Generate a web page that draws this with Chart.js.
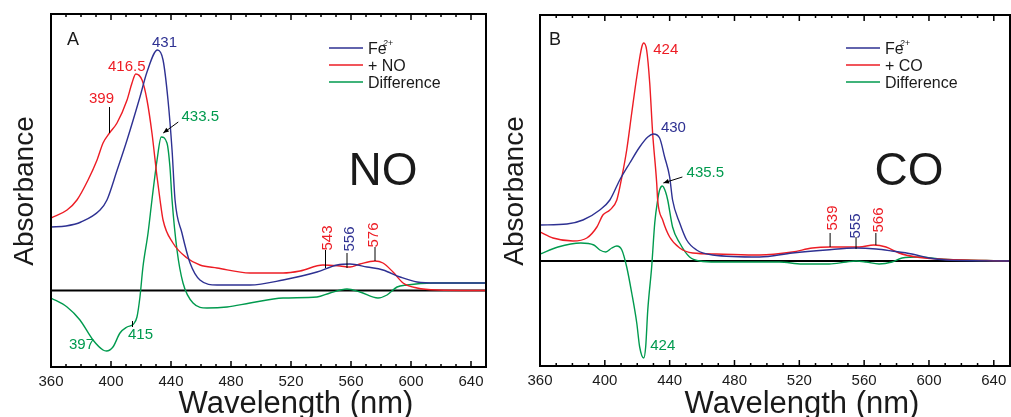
<!DOCTYPE html>
<html>
<head>
<meta charset="utf-8">
<script src="https://cdn.jsdelivr.net/npm/chart.js@4.4.0/dist/chart.umd.min.js"></script>
<style>
html,body{margin:0;padding:0;background:#fff;overflow:hidden}
.wrap{position:absolute;top:0;height:417px}
#wrapA{left:0;width:500px}
#wrapB{left:500px;width:511px}
</style>
</head>
<body>
<div class="wrap" id="wrapA"><canvas id="chartA" width="500" height="417" style="width:500px;height:417px"></canvas></div>
<div class="wrap" id="wrapB"><canvas id="chartB" width="511" height="417" style="width:511px;height:417px"></canvas></div>
<script>
const FONT='"Liberation Sans", Arial, Helvetica, sans-serif';
const BLUE='#2e3192',RED='#ed1c24',GREEN='#009a4e',INK='#1a1a1a';

/* x axis: tick every 10 nm, label every 40 nm */
const xTicks=[360,370,380,390,400,410,420,430,440,450,460,470,480,490,500,510,520,530,540,550,560,570,580,590,600,610,620,630,640,650];

/* panel A : Fe2+ / + NO / difference */
const nmFeA =[360,370,380,392.7,397.3,404,410.7,419.3,424,431,434.7,438,440.7,442.7,447.3,452.7,459.3,470.7,492.7,514.7,537.3,550.7,559.3,570.7,581.3,592.7,604,617.3,650];
const absFeA=[0.635,0.645,0.685,0.805,0.905,1.2,1.505,1.935,2.185,2.405,2.305,1.905,1.405,0.905,0.575,0.275,0.105,0.055,0.055,0.105,0.185,0.255,0.265,0.235,0.205,0.135,0.085,0.075,0.075];
const nmNOA =[360,370.7,377.3,384.7,390.7,394.7,399,404,410.7,414,416.5,420.7,424,427.3,430.7,432.7,434.7,441.3,450.7,459.3,470.7,492.7,514.7,526,541.3,552.7,559.3,566,576,581.3,588,594.7,604,617.3,650];
const absNOA=[0.725,0.805,0.905,1.105,1.305,1.475,1.575,1.675,1.905,2.075,2.165,2.105,1.905,1.575,1.135,0.905,0.705,0.475,0.325,0.255,0.225,0.175,0.175,0.195,0.255,0.245,0.235,0.265,0.295,0.275,0.185,0.075,0.025,0.005,0];
const nmDiffA =[360,370.7,379.3,388,394.7,397,401.3,406,410.7,415,417.3,419.3,421.3,424.7,427.3,430.7,433.5,437.3,439.3,440.7,444,448,454.7,464,477.3,492.7,514.7,537.3,546,557.3,566,578,584,590.7,597.3,614.7,650];
const absDiffA=[-0.075,-0.165,-0.295,-0.495,-0.595,-0.605,-0.565,-0.425,-0.365,-0.335,-0.265,-0.065,0.235,0.575,0.905,1.305,1.535,1.475,1.235,0.905,0.405,0.075,-0.125,-0.175,-0.165,-0.125,-0.075,-0.065,-0.025,0.015,-0.015,-0.075,-0.045,0.035,0.055,0.075,0.075];

/* panel B : Fe2+ / + CO / difference */
const nmFeB =[360,376.6,386.5,396.9,403.1,409.2,415.4,421.5,426.5,430,433.8,436.9,440,441.8,446.2,450.5,456.6,466.5,495.4,515.7,536.6,555,567.4,577.2,589.5,600,610.5,650];
const absFeB=[0.36,0.37,0.41,0.51,0.61,0.81,0.98,1.14,1.24,1.27,1.23,1.04,0.84,0.61,0.38,0.21,0.11,0.06,0.04,0.08,0.11,0.13,0.12,0.1,0.07,0.03,0.01,0];
const nmCOB =[360,368,380.3,388.9,395.1,398.8,403.1,407.4,410.5,413.5,416.6,419.7,422.8,424,425.8,427.7,429.5,432,432.6,435.7,440,446.2,454.2,468.9,495.4,515.7,528,539,548.9,556.9,566,573.5,581.5,592,606.2,650];
const absCOB=[0.29,0.23,0.2,0.23,0.34,0.46,0.51,0.61,0.84,1.11,1.48,1.84,2.14,2.18,2.11,1.78,1.28,0.78,0.61,0.41,0.24,0.13,0.08,0.07,0.06,0.09,0.13,0.14,0.14,0.14,0.16,0.14,0.08,0.04,0.02,0];
const nmDiffB =[360,371.1,385.2,393.2,396.9,400.6,404.3,407.4,410.5,413.5,416.6,419.7,421.5,424,425.2,426.5,428.9,430.8,432.6,433.8,435.5,437.5,438.8,441.8,446.2,452.3,458.5,468.9,495.4,507.7,521.8,538.5,548.9,555,561.2,569.2,577.2,583.4,593.8,606.2,650];
const absDiffB=[0.07,0.14,0.18,0.16,0.11,0.09,0.13,0.15,0.11,-0.06,-0.32,-0.62,-0.86,-0.97,-0.86,-0.49,-0.06,0.38,0.61,0.71,0.75,0.69,0.61,0.34,0.18,0.04,0,-0.01,-0.01,-0.01,-0.03,-0.03,-0.01,0,-0.01,-0.03,-0.01,0.03,0.04,0.02,0];

const pts=(xs,ys)=>xs.map((x,i)=>({x,y:ys[i]}));

/* peak marks: anchor on the curve (nm, value), pixel offsets for text / leader */
const marksA=[
  {t:'431',nm:431,v:2.405,c:BLUE,dx:7,dy:-7},
  {t:'416.5',nm:416.5,v:2.165,c:RED,dx:-9,dy:-7},
  {t:'399',nm:399,v:1.575,c:RED,dx:-8,dy:-34,line:[0,0,0,-26]},
  {t:'433.5',nm:433.5,v:1.535,c:GREEN,dx:39,dy:-20,arrow:[17,-15,2,-4]},
  {t:'397',nm:397,v:-0.605,c:GREEN,dx:-25,dy:-6},
  {t:'415',nm:415,v:-0.335,c:GREEN,dx:7,dy:11,line:[-1,-3,-1,3]},
  {t:'543',nm:543,v:0.255,c:RED,dx:2,dy:-27,rot:true,line:[0,3,0,-15]},
  {t:'556',nm:556,v:0.265,c:BLUE,dx:5,dy:-25,rot:true,line:[2,4,2,-11]},
  {t:'576',nm:576,v:0.295,c:RED,dx:-1,dy:-26,rot:true,line:[0,0,0,-14]}
];
const marksB=[
  {t:'424',nm:424,v:2.18,c:RED,dx:22,dy:7},
  {t:'430',nm:430,v:1.27,c:BLUE,dx:20,dy:-6},
  {t:'435.5',nm:435.5,v:0.75,c:GREEN,dx:43,dy:-13,arrow:[20,-9,1,-3]},
  {t:'424',nm:424,v:-0.97,c:GREEN,dx:19,dy:-12},
  {t:'539',nm:539,v:0.14,c:RED,dx:3,dy:-29,rot:true,line:[0,0,0,-14]},
  {t:'555',nm:555,v:0.13,c:BLUE,dx:0,dy:-22,rot:true,line:[0,1,0,-11]},
  {t:'566',nm:566,v:0.16,c:RED,dx:5,dy:-25,rot:true,line:[2,0,2,-12]}
];

const decor={
  id:'decor',
  beforeDatasetsDraw(c){
    const {ctx,chartArea:a,scales:{y}}=c;
    const y0=y.getPixelForValue(0);
    ctx.save();
    ctx.strokeStyle='#000';ctx.lineWidth=2;
    ctx.beginPath();ctx.moveTo(a.left,y0);ctx.lineTo(a.right,y0);ctx.stroke();
    ctx.restore();
  },
  afterDraw(c,args,o){
    const {ctx,chartArea:a,scales:{x,y}}=c;
    ctx.save();
    // frame + inward ticks
    ctx.strokeStyle='#000';ctx.lineWidth=2;
    ctx.strokeRect(a.left,a.top,a.right-a.left,a.bottom-a.top);
    ctx.lineWidth=1.5;
    x.ticks.forEach(t=>{
      const px=x.getPixelForValue(t.value),len=t.value%40===0?6:3;
      ctx.beginPath();
      ctx.moveTo(px,a.bottom);ctx.lineTo(px,a.bottom-len);
      ctx.moveTo(px,a.top);ctx.lineTo(px,a.top+len);
      ctx.stroke();
    });
    // axis titles
    ctx.fillStyle=INK;
    ctx.font='31px '+FONT;ctx.textAlign='center';ctx.textBaseline='alphabetic';
    ctx.fillText('Wavelength (nm)',o.xTitleX,413);
    ctx.save();
    ctx.translate(o.yTitleX,191);ctx.rotate(-Math.PI/2);
    ctx.font='28px '+FONT;ctx.fillText('Absorbance',0,0);
    ctx.restore();
    // panel letter + gas
    ctx.textAlign='left';ctx.font='18px '+FONT;
    ctx.fillText(o.letter,a.left+o.letterDx,45);
    ctx.textAlign='center';ctx.font='46px '+FONT;
    ctx.fillText(o.gas,o.gasX,185);
    // legend
    const rows=[['Fe',BLUE],['+ '+o.gas,RED],['Difference',GREEN]];
    ctx.textAlign='left';
    rows.forEach((r,i)=>{
      const ly=48+i*17;
      ctx.strokeStyle=r[1];ctx.lineWidth=1.6;
      ctx.beginPath();ctx.moveTo(o.legX,ly);ctx.lineTo(o.legX+34,ly);ctx.stroke();
      ctx.font='16px '+FONT;ctx.fillStyle=INK;
      ctx.fillText(r[0],o.legX+39,ly+5.5);
      if(i===0){
        const w=ctx.measureText('Fe').width;
        ctx.font='italic 9px '+FONT;
        ctx.fillText('2+',o.legX+39+w-4,ly-2);
      }
    });
    // peak marks
    ctx.font='15px '+FONT;ctx.textBaseline='middle';ctx.textAlign='center';
    o.marks.forEach(m=>{
      const px=x.getPixelForValue(m.nm),py=y.getPixelForValue(m.v);
      ctx.strokeStyle='#000';ctx.fillStyle='#000';ctx.lineWidth=1;
      if(m.line){
        ctx.beginPath();ctx.moveTo(px+m.line[0],py+m.line[1]);ctx.lineTo(px+m.line[2],py+m.line[3]);ctx.stroke();
      }
      if(m.arrow){
        const [x1,y1,x2,y2]=m.arrow,ang=Math.atan2(y2-y1,x2-x1);
        ctx.beginPath();ctx.moveTo(px+x1,py+y1);ctx.lineTo(px+x2,py+y2);ctx.stroke();
        ctx.beginPath();
        ctx.moveTo(px+x2,py+y2);
        ctx.lineTo(px+x2-6*Math.cos(ang-0.4),py+y2-6*Math.sin(ang-0.4));
        ctx.lineTo(px+x2-6*Math.cos(ang+0.4),py+y2-6*Math.sin(ang+0.4));
        ctx.closePath();ctx.fill();
      }
      ctx.fillStyle=m.c;
      if(m.rot){
        ctx.save();ctx.translate(px+m.dx,py+m.dy);ctx.rotate(-Math.PI/2);
        ctx.fillText(m.t,0,0);ctx.restore();
      }else ctx.fillText(m.t,px+m.dx,py+m.dy);
    });
    ctx.restore();
  }
};

function makePanel(id,sets,yMin,yMax,pad,axH,opts){
  return new Chart(document.getElementById(id),{
    type:'line',
    data:{datasets:sets.map(s=>({data:s[0],borderColor:s[1],borderWidth:1.4,pointRadius:0,fill:false,cubicInterpolationMode:'monotone'}))},
    options:{
      responsive:false,animation:false,
      layout:{padding:pad},
      plugins:{legend:{display:false},tooltip:{enabled:false},decor:opts},
      scales:{
        x:{type:'linear',min:360,max:650,
          afterBuildTicks:s=>{s.ticks=xTicks.map(v=>({value:v}));},
          afterFit:s=>{s.height=axH;s.paddingLeft=0;s.paddingRight=0;},
          grid:{display:false,drawTicks:false},border:{display:false},
          ticks:{autoSkip:false,maxRotation:0,padding:6,color:INK,font:{family:FONT,size:15},callback:v=>v%40===0&&v<650?String(v):''}},
        y:{display:false,min:yMin,max:yMax}
      }
    },
    plugins:[decor]
  });
}

makePanel('chartA',[[pts(nmFeA,absFeA),BLUE],[pts(nmNOA,absNOA),RED],[pts(nmDiffA,absDiffA),GREEN]],
  -0.765,2.765,{left:51,right:14,top:14,bottom:0},50,
  {letter:'A',letterDx:16,gas:'NO',gasX:383,legX:329,xTitleX:296,yTitleX:33,marks:marksA});
makePanel('chartB',[[pts(nmFeB,absFeB),BLUE],[pts(nmCOB,absCOB),RED],[pts(nmDiffB,absDiffB),GREEN]],
  -1.05,2.46,{left:40,right:1,top:15,bottom:0},51,
  {letter:'B',letterDx:9,gas:'CO',gasX:409,legX:346,xTitleX:302,yTitleX:23,marks:marksB});
</script>
</body>
</html>
